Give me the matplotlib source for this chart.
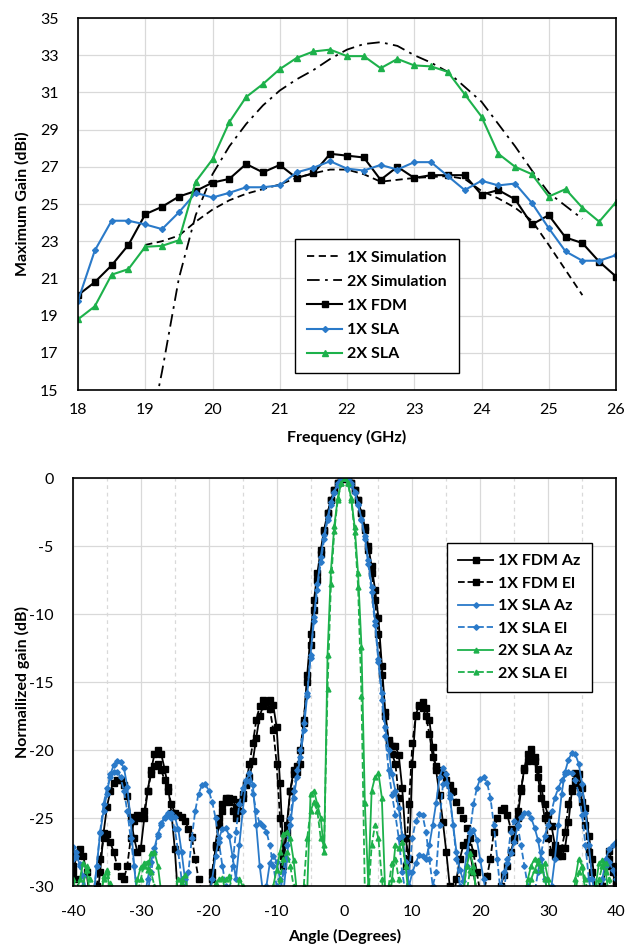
import numpy as np
import matplotlib
import matplotlib.pyplot as plt
from matplotlib.ticker import MultipleLocator

matplotlib.use('agg')
plt.rcParams['font.family'] = ['Lato', 'DejaVu Sans']
plt.rcParams['axes.unicode_minus'] = False

BLUE = '#2A7AC9'
GREEN = '#1DB14B'
GRID = '#D9D9D9'

# ---- top chart: maximum gain vs frequency ----
freq = np.arange(18, 26.01, 0.25)
fdm_1x = [20.1, 20.8, 21.7, 22.8, 24.45, 24.85, 25.4, 25.7, 26.15, 26.35, 27.15,
          26.7, 27.1, 26.4, 26.65, 27.7, 27.6, 27.5, 26.3, 27.0, 26.4, 26.55,
          26.55, 26.55, 25.5, 25.75, 25.25, 23.9, 24.4, 23.2, 22.9, 21.9, 21.1]
sla_1x = [19.8, 22.5, 24.1, 24.1, 23.9, 23.65, 24.55, 25.6, 25.35, 25.6, 25.9,
          25.9, 26.0, 26.7, 26.95, 27.3, 26.9, 26.8, 27.1, 26.85, 27.25, 27.25,
          26.5, 25.75, 26.25, 26.0, 26.1, 25.05, 23.7, 22.45, 21.95, 21.95, 22.25]
sla_2x = [18.8, 19.5, 21.2, 21.5, 22.7, 22.75, 23.05, 26.2, 27.4, 29.4, 30.75,
          31.45, 32.25, 32.85, 33.2, 33.3, 32.95, 32.95, 32.3, 32.8, 32.45, 32.4,
          32.1, 30.9, 29.7, 27.7, 27.0, 26.6, 25.4, 25.8, 24.8, 24.05, 25.1]

sim_freq = [19.0, 19.25, 19.5, 19.75, 20.0, 20.25, 20.5, 20.75, 21.0, 21.25, 21.5,
            21.75, 22.0, 22.25, 22.5, 22.75, 23.0, 23.25, 23.5, 23.75, 24.0, 24.25,
            24.5, 24.75, 25.0, 25.25, 25.5]
sim_1x = [22.8, 23.0, 23.3, 24.05, 24.7, 25.2, 25.55, 25.8, 26.05, 26.4, 26.65,
          26.85, 26.85, 26.6, 26.2, 26.3, 26.4, 26.45, 26.5, 26.35, 25.7, 25.3,
          24.8, 24.1, 22.8, 21.45, 20.1]
sim_2x = [11.5, 16.0, 21.0, 24.4, 26.6, 28.1, 29.3, 30.3, 31.1, 31.7, 32.2,
          32.8, 33.3, 33.6, 33.7, 33.5, 33.0, 32.6, 32.1, 31.3, 30.5, 29.3,
          28.1, 26.8, 25.6, 24.9, 24.2]

# ---- bottom chart: normalized patterns, -40..40 deg every 0.5 deg ----
angle = np.arange(-40, 40.01, 0.5)
fdm_az = [
    -29.0, -27.8, -27.3, -27.8, -29.0, -31.0, -32.0, -31.0, -29.0, -26.1,
    -24.2, -23.0, -22.4, -22.2, -22.2, -22.6, -23.4, -24.9, -26.5, -27.5,
    -27.2, -25.0, -23.0, -21.5, -20.3, -20.0, -20.3, -21.4, -22.7, -24.6,
    -27.3, -31.0, -33.0, -34.0, -34.0, -34.0, -33.0, -32.5, -32.0, -31.5,
    -31.0, -29.5, -27.1, -25.5, -24.5, -23.7, -23.5, -23.6, -24.2, -23.8,
    -23.2, -22.6, -22.0, -20.8, -19.1, -17.5, -16.8, -16.5, -16.3, -16.7,
    -18.3, -22.4, -27.8, -25.5, -23.0, -21.5, -21.2, -21.0, -18.0, -14.5,
    -11.5, -9.0, -7.0, -5.3, -3.8, -2.6, -1.6, -0.9, -0.4, -0.1,
    0.0, -0.1, -0.4, -0.9, -1.6, -2.6, -3.6, -5.0, -6.5, -8.2,
    -10.3, -13.8, -17.2, -19.3, -19.7, -19.7, -20.4, -22.8, -26.5, -28.0,
    -21.0, -17.4, -16.7, -16.5, -16.9, -17.8, -19.8, -21.5, -23.3, -25.3,
    -27.5, -30.0, -31.0, -29.5, -28.0, -27.0, -26.8, -27.5, -29.0, -30.5,
    -32.0, -33.0, -32.5, -31.5, -31.0, -30.5, -30.0, -29.2, -28.5, -27.5,
    -26.6, -25.0, -23.0, -21.3, -20.3, -19.9, -20.5, -21.4, -22.8, -24.0,
    -24.8, -25.6, -27.0, -27.8, -27.8, -27.2, -25.3, -23.0, -21.7, -21.8,
    -22.8, -24.3, -26.3, -28.0, -30.5, -32.0, -30.0, -28.2, -27.4, -28.5,
    -29.6]
fdm_el = [
    -28.5, -29.5, -30.5, -31.0, -30.5, -31.0, -31.0, -30.0, -28.0, -26.5,
    -26.2, -26.8, -27.5, -28.5, -29.3, -29.5, -28.5, -26.5, -25.2, -24.8,
    -25.0, -24.5, -23.0, -21.8, -21.2, -21.0, -21.5, -22.2, -23.0, -24.0,
    -24.6, -24.8, -24.9, -25.2, -25.8, -26.4, -28.0, -29.5, -30.5, -31.0,
    -31.0, -29.0, -27.0, -25.0, -24.0, -23.5, -23.8, -24.5, -25.0, -24.5,
    -23.5, -22.5, -21.0, -19.5, -17.8, -16.8, -16.3, -16.4, -17.0, -18.5,
    -21.0, -25.0, -28.5, -26.0, -23.0, -21.8, -21.6, -20.0, -17.8, -15.0,
    -12.3, -9.7, -7.5, -5.6, -3.9, -2.6, -1.6, -0.9, -0.4, -0.1,
    0.0, -0.1, -0.4, -0.9, -1.6, -2.6, -3.8, -5.3, -7.0, -9.0,
    -11.5, -14.5, -17.5, -19.5, -20.3, -21.0, -23.5, -26.5, -28.5, -24.0,
    -19.5, -17.5, -16.8, -16.9, -17.5, -18.8, -20.5, -21.2, -21.5, -21.8,
    -22.2, -22.6, -23.0, -23.8, -24.4, -25.0, -25.7, -26.5, -27.6, -29.0,
    -30.5, -30.5, -29.3, -28.0, -26.0, -25.0, -24.4, -24.3, -24.8, -25.8,
    -26.5, -24.5, -22.8, -21.5, -20.8, -20.3, -20.8, -22.0, -23.5, -25.0,
    -26.5, -27.5, -27.8, -27.5, -27.2, -26.0, -24.0, -22.8, -22.3, -22.6,
    -23.8, -25.5, -27.5, -29.0, -30.5, -31.0, -30.0, -28.5, -28.0, -29.0,
    -30.0]
sla1_az = [
    -27.1, -27.8, -28.4, -29.3, -30.5, -31.5, -30.8, -28.5, -26.1, -24.5,
    -23.2, -21.8, -21.1, -20.8, -20.9, -21.3, -22.7, -25.2, -28.5, -31.0,
    -32.0, -31.0, -29.5, -28.2, -27.2, -26.2, -25.4, -24.9, -24.6, -24.6,
    -24.9, -25.8, -27.5, -29.5, -31.0, -32.0, -32.5, -32.5, -32.0, -31.5,
    -31.0, -29.5, -27.8, -26.5, -25.8, -25.7, -26.3, -27.8, -29.5, -27.0,
    -24.5, -22.3, -21.7, -22.6, -25.5, -28.5, -30.5, -30.0, -28.3, -27.8,
    -28.2, -29.5, -30.5, -28.0, -25.5, -23.5, -22.0, -20.5, -18.5, -16.0,
    -13.0, -10.2, -7.8, -5.8, -4.2, -2.9, -1.8, -1.0, -0.4, -0.1,
    0.0, -0.1, -0.4, -1.0, -1.9, -3.0, -4.3, -6.0, -8.0, -10.5,
    -13.3, -15.8, -18.3, -20.0, -21.8, -23.0, -24.3, -26.3, -28.2, -30.0,
    -29.0, -28.3, -27.7, -27.8, -28.0, -27.0, -25.5, -23.9, -22.0, -21.3,
    -21.8, -23.3, -25.5, -27.5, -28.8, -29.6, -27.6, -26.1, -25.9, -26.6,
    -28.1, -29.5, -31.0, -32.0, -31.5, -30.5, -30.0, -29.0, -28.3, -27.6,
    -26.8, -25.6, -24.9, -24.6, -24.6, -25.0, -25.7, -26.6, -28.0, -29.5,
    -30.5, -30.0, -28.0, -25.5, -23.2, -21.6, -20.7, -20.2, -20.3, -21.0,
    -22.5, -24.6, -27.0, -29.5, -31.0, -31.0, -29.5, -28.0, -27.3, -27.0,
    -26.8]
sla1_el = [
    -28.0, -27.5, -28.5, -30.0, -31.5, -32.0, -31.0, -28.5, -26.0, -24.0,
    -22.8, -22.0, -21.6, -21.6, -22.0, -23.0, -24.5, -26.5, -28.5, -30.5,
    -32.0, -32.0, -30.5, -29.0, -27.5, -26.3, -25.5, -25.0, -24.8, -25.0,
    -25.8, -27.5, -29.5, -30.5, -29.0, -26.5, -24.5, -23.2, -22.6, -22.5,
    -23.0, -23.8, -25.0, -26.8, -28.5, -30.0, -30.5, -28.5, -26.0, -24.0,
    -22.8, -22.2, -22.3, -23.2, -24.5, -25.4, -25.6, -26.0, -27.0, -28.5,
    -30.0, -30.5, -29.0, -27.0, -25.0, -23.0, -21.5, -20.0, -18.0, -15.8,
    -13.2, -10.5, -8.2, -6.2, -4.5, -3.1, -2.0, -1.1, -0.5, -0.1,
    0.0, -0.1, -0.5, -1.1, -2.0, -3.1, -4.5, -6.3, -8.4, -10.8,
    -13.5, -16.3, -19.0, -21.5, -23.3, -24.8, -26.5, -29.0, -30.5, -29.0,
    -26.5, -25.2, -24.7, -24.8, -26.0, -28.0, -30.0, -29.0, -25.5, -22.5,
    -22.4, -23.5, -25.5, -28.0, -30.0, -30.5, -28.5, -26.0, -24.0, -22.8,
    -22.1, -22.0, -22.4, -23.5, -25.5, -28.0, -30.5, -30.5, -28.0, -26.0,
    -25.2, -25.5, -27.0, -28.5, -30.0, -31.0, -30.5, -29.0, -27.5, -26.3,
    -25.5, -24.5, -23.5, -22.8, -22.2, -21.8, -21.6, -21.7, -22.2, -23.2,
    -24.8, -27.0, -29.5, -31.0, -32.0, -31.0, -29.5, -28.5, -28.2, -28.8,
    -29.5]
sla2_az = [
    -31.0, -30.5, -29.5, -28.3, -28.8, -30.5, -32.0, -33.0, -31.5, -29.3,
    -29.0, -30.5, -32.0, -33.0, -33.0, -33.0, -33.0, -32.0, -31.0, -29.5,
    -28.6, -28.5, -28.8, -27.6, -27.5, -28.5, -30.5, -32.0, -33.0, -32.0,
    -30.5, -29.5, -29.8, -31.0, -33.0, -33.0, -33.0, -33.0, -33.0, -32.0,
    -31.0, -30.5, -29.8, -29.5, -29.4, -30.5, -32.0, -33.0, -31.5, -29.5,
    -30.0, -31.5, -33.0, -33.0, -33.0, -33.0, -33.0, -32.0, -31.0, -30.0,
    -28.8, -27.5, -26.2, -26.0, -26.5, -28.1, -30.5, -32.0, -33.0, -30.5,
    -23.2, -23.0, -24.0, -25.0, -27.5, -13.0, -6.8, -3.5, -1.5, -0.4,
    0.0, -0.4, -1.5, -3.6, -7.0, -12.4, -23.9, -29.9, -23.0, -22.0,
    -21.7, -23.5, -30.5, -32.0, -29.5, -27.0, -27.2, -26.8, -28.5, -31.0,
    -33.0, -33.0, -33.0, -33.0, -33.0, -33.0, -33.0, -33.0, -33.0, -33.0,
    -33.0, -33.0, -33.0, -33.0, -32.0, -30.5, -28.5, -27.6, -28.5, -31.0,
    -33.0, -33.0, -33.0, -33.0, -33.0, -33.0, -33.0, -33.0, -33.0, -33.0,
    -33.0, -33.0, -33.0, -31.0, -29.5, -28.5, -28.0, -28.1, -28.8, -28.3,
    -29.5, -31.0, -33.0, -33.0, -33.0, -33.0, -33.0, -33.0, -29.5, -28.0,
    -28.5, -30.5, -33.0, -32.0, -30.0, -28.3, -28.1, -29.0, -31.0, -32.0,
    -31.5]
sla2_el = [
    -29.5, -30.5, -31.0, -30.0, -28.5, -29.5, -31.5, -32.0, -31.0, -29.5,
    -28.8, -29.8, -31.5, -33.0, -33.0, -33.0, -33.0, -33.0, -32.0, -30.5,
    -29.5, -28.3, -28.2, -29.0, -30.0, -31.5, -33.0, -33.0, -33.0, -33.0,
    -33.0, -31.0, -29.5, -29.2, -30.5, -33.0, -33.0, -33.0, -33.0, -33.0,
    -33.0, -33.0, -33.0, -32.0, -31.0, -29.5, -29.3, -30.5, -33.0, -33.0,
    -33.0, -33.0, -33.0, -33.0, -33.0, -33.0, -33.0, -33.0, -32.0, -31.5,
    -31.0, -29.5, -28.0, -27.5, -28.5, -30.0, -31.5, -32.0, -30.0, -26.5,
    -24.5, -23.8, -24.5, -26.5, -27.0, -15.5, -7.8, -3.9, -1.6, -0.4,
    0.0, -0.4, -1.6, -4.0, -8.0, -16.0, -30.5, -31.0, -27.0, -25.5,
    -26.5, -29.5, -31.5, -30.0, -28.3, -28.0, -29.5, -31.0, -33.0, -33.0,
    -33.0, -33.0, -33.0, -33.0, -33.0, -33.0, -33.0, -33.0, -33.0, -33.0,
    -33.0, -33.0, -33.0, -33.0, -33.0, -32.0, -30.5, -28.8, -29.0, -30.5,
    -33.0, -33.0, -33.0, -33.0, -33.0, -33.0, -33.0, -33.0, -33.0, -33.0,
    -33.0, -33.0, -33.0, -33.0, -30.5, -29.5, -28.8, -28.3, -28.5, -29.5,
    -30.5, -33.0, -33.0, -33.0, -33.0, -33.0, -33.0, -33.0, -30.5, -29.0,
    -28.6, -29.5, -31.0, -33.0, -31.0, -29.5, -28.5, -28.3, -29.5, -31.0,
    -32.0]


def style_axes(ax):
    for side in ax.spines.values():
        side.set_color('black')
        side.set_linewidth(1.2)
    ax.tick_params(length=0, labelsize=11.5)
    ax.set_axisbelow(True)


fig = plt.figure(figsize=(6.28, 9.48), dpi=100)

# top panel
ax1 = fig.add_axes([78 / 628, 1 - 390 / 948, 538 / 628, 372 / 948])
style_axes(ax1)
ax1.plot(sim_freq, sim_1x, color='black', lw=1.3, dashes=(4, 2.5), label='1X Simulation')
ax1.plot(sim_freq, sim_2x, color='black', lw=1.3, dashes=(7, 3, 1.5, 3), label='2X Simulation')
ax1.plot(freq, fdm_1x, color='black', lw=1.5, marker='s', ms=4.5, label='1X FDM')
ax1.plot(freq, sla_1x, color=BLUE, lw=1.5, marker='D', ms=3, label='1X SLA')
ax1.plot(freq, sla_2x, color=GREEN, lw=1.5, marker='^', ms=4.5, label='2X SLA')
ax1.set_xlim(18, 26)
ax1.set_ylim(15, 35)
ax1.set_xticks(range(18, 27))
ax1.set_yticks(range(15, 36, 2))
ax1.grid(True, color=GRID, lw=0.9)
ax1.tick_params(axis='y', pad=14)
ax1.tick_params(axis='x', pad=9)
ax1.set_xlabel('Frequency (GHz)', fontsize=11.5, fontweight='bold')
ax1.set_ylabel('Maximum Gain (dBi)', fontsize=11.5, fontweight='bold')
ax1.xaxis.set_label_coords(0.5, -0.108)
ax1.yaxis.set_label_coords(-0.09, 0.5)
leg1 = ax1.legend(loc='center', bbox_to_anchor=(0.556, 0.226), fancybox=False,
                  edgecolor='black', framealpha=1, handlelength=2.2,
                  labelspacing=0.62, handletextpad=0.3, borderpad=0.75,
                  prop={'size': 11.5, 'weight': 'bold'})
leg1.get_frame().set_linewidth(1.0)

# bottom panel
ax2 = fig.add_axes([73 / 628, 1 - 886 / 948, 543 / 628, 408 / 948])
style_axes(ax2)
ax2.plot(angle, fdm_az, color='black', lw=1.3, marker='s', ms=4.5, label='1X FDM Az')
ax2.plot(angle, fdm_el, color='black', lw=1.3, ls='--', marker='s', ms=4.5, label='1X FDM El')
ax2.plot(angle, sla1_az, color=BLUE, lw=1.3, marker='D', ms=2.8, label='1X SLA Az')
ax2.plot(angle, sla1_el, color=BLUE, lw=1.3, ls='--', marker='D', ms=2.8, label='1X SLA El')
ax2.plot(angle, sla2_az, color=GREEN, lw=1.3, marker='^', ms=3.5, label='2X SLA Az')
ax2.plot(angle, sla2_el, color=GREEN, lw=1.3, ls='--', marker='^', ms=3.5, label='2X SLA El')
ax2.set_xlim(-40, 40)
ax2.set_ylim(-30, 0)
ax2.xaxis.set_major_locator(MultipleLocator(10))
ax2.xaxis.set_minor_locator(MultipleLocator(5))
ax2.yaxis.set_major_locator(MultipleLocator(5))
ax2.grid(True, which='major', color=GRID, lw=0.9)
ax2.grid(True, which='minor', axis='x', color=GRID, lw=0.9, ls=(0, (3, 3)))
ax2.tick_params(which='minor', length=0)
ax2.tick_params(axis='y', pad=14)
ax2.tick_params(axis='x', pad=14)
ax2.set_xlabel('Angle (Degrees)', fontsize=11.5, fontweight='bold')
ax2.set_ylabel('Normailized gain (dB)', fontsize=11.5, fontweight='bold')
ax2.xaxis.set_label_coords(0.5, -0.105)
ax2.yaxis.set_label_coords(-0.08, 0.5)
leg2 = ax2.legend(loc='center', bbox_to_anchor=(0.822, 0.658), fancybox=False,
                  edgecolor='black', framealpha=1, handlelength=2.2,
                  labelspacing=0.52, handletextpad=0.3, borderpad=0.7,
                  prop={'size': 11.5, 'weight': 'bold'})
leg2.get_frame().set_linewidth(1.0)

fig.savefig('out.png', dpi=100, facecolor='white')
plt.close(fig)
